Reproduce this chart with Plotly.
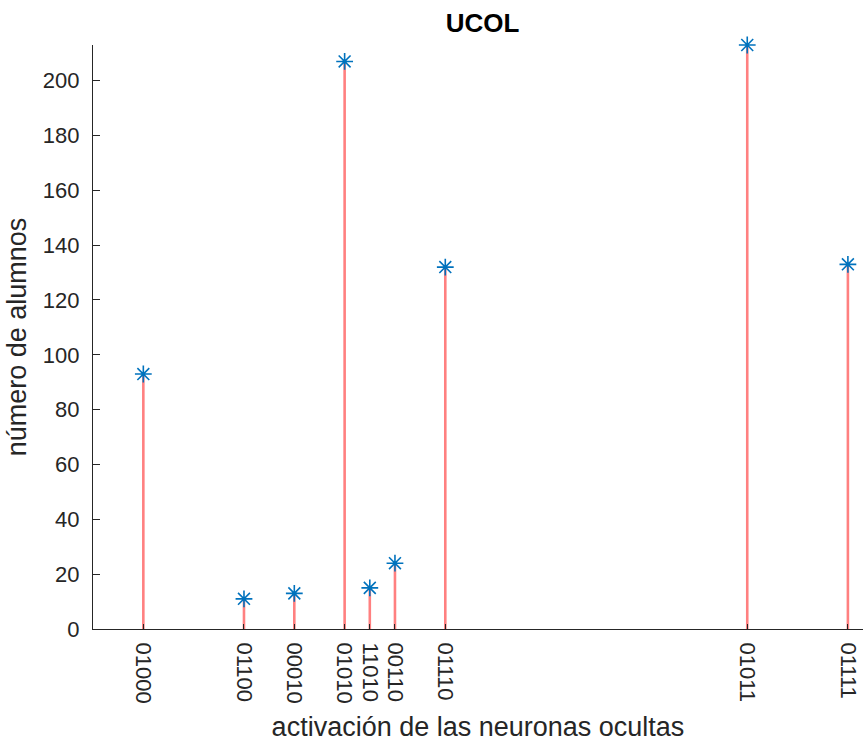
import plotly.graph_objects as go

# Data
codes = ["01000", "01100", "00010", "01010", "11010", "00110", "01110", "01011", "01111"]
positions = [2, 6, 8, 10, 11, 12, 14, 26, 30]
counts = [93, 11, 13, 207, 15, 24, 132, 213, 133]

stem_x, stem_y = [], []
for xv, yv in zip(positions, counts):
    stem_x += [xv, xv, None]
    stem_y += [0, yv, None]

fig = go.Figure()
fig.add_trace(go.Scatter(
    x=stem_x, y=stem_y, mode="lines",
    line=dict(color="#FF8080", width=2.6),
    hoverinfo="skip", showlegend=False, cliponaxis=False,
))
fig.add_trace(go.Scatter(
    x=positions, y=counts, mode="markers",
    marker=dict(symbol="asterisk-open", size=14, color="#0072BD",
                line=dict(color="#0072BD", width=1.6)),
    showlegend=False, cliponaxis=False,
))

axis_color = "#262626"
fig.update_layout(
    width=863, height=742,
    margin=dict(l=93, r=0, t=45, b=113),
    paper_bgcolor="white", plot_bgcolor="white",
    font=dict(family="Liberation Sans, Arial, sans-serif", color=axis_color, size=22),
    title=dict(text="<b>UCOL</b>", xref="container", yref="container",
               x=482.5 / 863, y=1 - 23 / 742, xanchor="center", yanchor="middle",
               font=dict(size=26, color="black")),
    xaxis=dict(
        range=[0, 30.6], showgrid=False, zeroline=False,
        showline=True, linecolor=axis_color, linewidth=1.2,
        tickmode="array", tickvals=positions, ticktext=codes,
        ticks="inside", ticklen=5, tickcolor=axis_color, tickwidth=1,
        tickangle=90, ticklabelstandoff=8,
        tickfont=dict(size=22, color=axis_color),
        title=dict(text="activación de las neuronas ocultas", standoff=14,
                   font=dict(size=27, color=axis_color)),
    ),
    yaxis=dict(
        range=[0, 213], showgrid=False, zeroline=False,
        showline=True, linecolor=axis_color, linewidth=1.2,
        tickmode="array", tickvals=list(range(0, 201, 20)),
        ticks="inside", ticklen=7, tickcolor=axis_color, tickwidth=1,
        ticklabelstandoff=8,
        tickfont=dict(size=22, color=axis_color),
        title=dict(text="número de alumnos", standoff=8,
                   font=dict(size=27, color=axis_color)),
    ),
)

fig.write_html("out.html")
